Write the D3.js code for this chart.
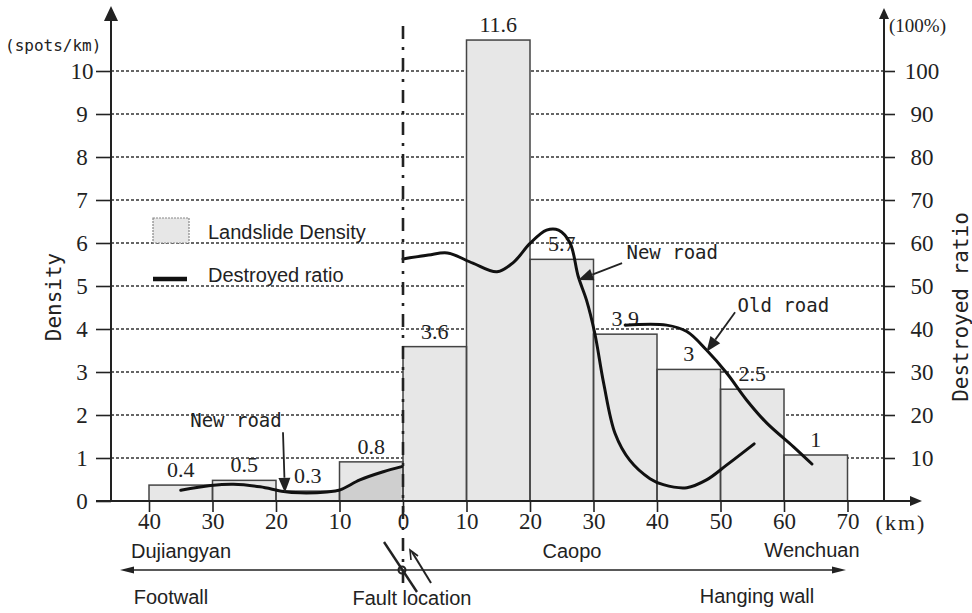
<!DOCTYPE html>
<html>
<head>
<meta charset="utf-8">
<script src="https://cdn.jsdelivr.net/npm/d3@7"></script>
<style>
  html, body { margin: 0; padding: 0; background: #fff; }
  svg { display: block; }
</style>
</head>
<body>
<svg id="chart" width="972" height="613"></svg>
<script>
// ---------------- DATA ----------------
const segStart = [-40, -30, -20, -10, 0, 10, 20, 30, 40, 50, 60];
const segEnd   = [-30, -20, -10, 0, 10, 20, 30, 40, 50, 60, 70];
// bar heights as drawn in the figure (spots/km)
const densityDrawn  = [0.37, 0.48, 0.23, 0.91, 3.59, 10.72, 5.62, 3.88, 3.06, 2.6, 1.07];
const densityLabels = ["0.4", "0.5", "0.3", "0.8", "3.6", "11.6", "5.7", "3.9", "3", "2.5", "1"];

// destroyed ratio (%) – footwall new road
const footKm    = [-35, -30.3, -26.7, -22.5, -18.8, -16.2, -12, -9.9, -6.8, -3.1, -0.2];
const footRatio = [2.5, 3.6, 3.9, 3.3, 2.2, 1.9, 2.1, 2.6, 4.9, 6.8, 8.0];
// hanging wall new road
const newKm    = [0, 4, 7, 11, 14.8, 17.4, 20, 22.6, 24.5, 26.3, 27.6, 28.9, 30.2, 31.6, 33.4, 35.7, 38.9, 41, 44.7, 47.8, 51, 55.3];
const newRatio = [56.3, 57.2, 57.7, 55.3, 53.3, 55.5, 59.9, 63, 63, 60, 52.2, 46.7, 39, 27.4, 15.7, 9.5, 5.2, 3.8, 3.1, 4.9, 8.4, 13.3];
// hanging wall old road
const oldKm    = [35, 41.5, 44.7, 47.8, 51, 54.1, 57.3, 61.5, 64.4];
const oldRatio = [40.9, 40.9, 39.4, 35.1, 29.7, 23.5, 18.1, 12.6, 8.6];

const xTicks = [-40, -30, -20, -10, 0, 10, 20, 30, 40, 50, 60, 70];
const yTicks = [0, 1, 2, 3, 4, 5, 6, 7, 8, 9, 10];
const yRTicks = [10, 20, 30, 40, 50, 60, 70, 80, 90, 100];

// ---------------- SETUP ----------------
const svg = d3.select("#chart");
const serif = "'Liberation Serif', 'DejaVu Serif', serif";
const sans = "'Liberation Sans', Arial, sans-serif";
const mono = "'DejaVu Sans Mono', 'Liberation Mono', monospace";
const ink = "#222";

const xLeft = 111, xRight = 884, yBase = 501;
const x = d3.scaleLinear().domain([-40, 70]).range([149, 847.5]);
const y = d3.scaleLinear().domain([0, 10]).range([yBase, 71]);
const yR = d3.scaleLinear().domain([0, 100]).range([yBase, 71]);

const defs = svg.append("defs");

// ---------------- GRID ----------------
svg.append("g").selectAll("line").data(yTicks.filter(d => d > 0)).join("line")
  .attr("x1", xLeft).attr("x2", xRight)
  .attr("y1", d => y(d)).attr("y2", d => y(d))
  .attr("stroke", "#333").attr("stroke-width", 1.3).attr("stroke-dasharray", "3,2");

// ---------------- BARS ----------------
const bars = segStart.map((s, i) => ({ s, e: segEnd[i], v: densityDrawn[i], label: densityLabels[i] }));

bars.forEach((b, i) => {
  defs.append("clipPath").attr("id", "clip" + i).append("rect")
    .attr("x", x(b.s)).attr("y", y(b.v)).attr("width", x(b.e) - x(b.s)).attr("height", yBase - y(b.v));
});

svg.append("g").selectAll("rect").data(bars).join("rect")
  .attr("x", d => x(d.s)).attr("y", d => y(d.v))
  .attr("width", d => x(d.e) - x(d.s)).attr("height", d => yBase - y(d.v))
  .attr("fill", "#e7e7e7");

// darker shading under the footwall curve inside the -10..0 bar
const footPts = footKm.map((k, i) => [k, footRatio[i]]);
svg.append("path")
  .datum(footPts)
  .attr("clip-path", "url(#clip3)")
  .attr("fill", "#cfcfcf")
  .attr("d", d3.area().x(d => x(d[0])).y0(yBase).y1(d => yR(d[1])).curve(d3.curveCatmullRom.alpha(0.5)));

svg.append("g").selectAll("rect").data(bars).join("rect")
  .attr("x", d => x(d.s)).attr("y", d => y(d.v))
  .attr("width", d => x(d.e) - x(d.s)).attr("height", d => yBase - y(d.v))
  .attr("fill", "none").attr("stroke", "#444").attr("stroke-width", 1.5);

// value labels
svg.append("g").selectAll("text").data(bars).join("text")
  .attr("x", d => (x(d.s) + x(d.e)) / 2)
  .attr("y", d => y(d.v) - 8)
  .attr("text-anchor", "middle")
  .attr("font-family", serif).attr("font-size", 22).attr("fill", ink)
  .text(d => d.label);

// ---------------- AXES ----------------
// left axis
const gL = svg.append("g").attr("transform", `translate(${xLeft},0)`)
  .call(d3.axisLeft(y).tickValues(yTicks).tickSize(15).tickFormat(d3.format("d")));
gL.select(".domain").remove();
gL.selectAll(".tick line").attr("stroke", ink).attr("stroke-width", 1.6);
gL.selectAll(".tick text").attr("x", -29).attr("text-anchor", "middle")
  .attr("font-family", serif).attr("font-size", 23).attr("fill", ink);

// right axis
const gR = svg.append("g").attr("transform", `translate(${xRight},0)`)
  .call(d3.axisRight(yR).tickValues(yRTicks).tickSize(11).tickFormat(d3.format("d")));
gR.select(".domain").remove();
gR.selectAll(".tick line").attr("stroke", ink).attr("stroke-width", 1.6);
gR.selectAll(".tick text").attr("x", 38).attr("text-anchor", "middle")
  .attr("font-family", serif).attr("font-size", 23).attr("fill", ink);

// bottom axis
const gB = svg.append("g").attr("transform", `translate(0,${yBase})`)
  .call(d3.axisBottom(x).tickValues(xTicks).tickSize(11).tickFormat(d => Math.abs(d)));
gB.select(".domain").remove();
gB.selectAll(".tick line").attr("stroke", ink).attr("stroke-width", 1.6);
gB.selectAll(".tick text").attr("y", 21).attr("dy", "0.32em")
  .attr("font-family", serif).attr("font-size", 23).attr("fill", ink);

// axis lines with arrows
svg.append("line").attr("x1", xLeft).attr("x2", xLeft).attr("y1", 18).attr("y2", yBase)
  .attr("stroke", ink).attr("stroke-width", 2);
svg.append("path").attr("d", `M${xLeft},6 L${xLeft - 7},21 L${xLeft + 7},21 Z`).attr("fill", ink);

svg.append("line").attr("x1", xRight).attr("x2", xRight).attr("y1", 16).attr("y2", yBase)
  .attr("stroke", ink).attr("stroke-width", 2);
svg.append("path").attr("d", `M${xRight},8 L${xRight - 5},19 L${xRight + 5},19 Z`).attr("fill", ink);

svg.append("line").attr("x1", 96).attr("x2", 914).attr("y1", yBase).attr("y2", yBase)
  .attr("stroke", ink).attr("stroke-width", 2);
svg.append("path").attr("d", `M922,${yBase} L910,${yBase - 5} L910,${yBase + 5} Z`).attr("fill", ink);

// axis unit labels and titles
svg.append("text").attr("x", 5).attr("y", 51)
  .attr("font-family", mono).attr("font-size", 16).attr("fill", ink).text("(spots/km)");
svg.append("text").attr("x", 889).attr("y", 32)
  .attr("font-family", serif).attr("font-size", 19).attr("fill", ink).text("(100%)");
svg.append("text").attr("x", 901).attr("y", 523).attr("dy", "0.32em").attr("text-anchor", "middle")
  .attr("font-family", serif).attr("font-size", 22).attr("letter-spacing", 2).attr("fill", ink).text("(km)");

svg.append("text").attr("transform", "translate(61,297) rotate(-90)")
  .attr("text-anchor", "middle").attr("font-family", mono).attr("font-size", 21).attr("fill", ink).text("Density");
svg.append("text").attr("transform", "translate(968,307) rotate(-90)")
  .attr("text-anchor", "middle").attr("font-family", mono).attr("font-size", 21).attr("fill", ink).text("Destroyed ratio");

// ---------------- CURVES ----------------
const line = d3.line().x(d => x(d[0])).y(d => yR(d[1])).curve(d3.curveCatmullRom.alpha(0.5));
const curves = [
  footPts,
  newKm.map((k, i) => [k, newRatio[i]]),
  oldKm.map((k, i) => [k, oldRatio[i]])
];
svg.append("g").selectAll("path").data(curves).join("path")
  .attr("d", line).attr("fill", "none").attr("stroke", "#111").attr("stroke-width", 3)
  .attr("stroke-linecap", "round");

// ---------------- FAULT LINE ----------------
svg.append("line").attr("x1", x(0)).attr("x2", x(0)).attr("y1", 26).attr("y2", 590)
  .attr("stroke", ink).attr("stroke-width", 2.6).attr("stroke-dasharray", "13,8,3,8");

// ---------------- ANNOTATIONS ----------------
function arrow(x1, y1, x2, y2, headLen, headW, open) {
  const ang = Math.atan2(y2 - y1, x2 - x1);
  const bx = x2 - headLen * Math.cos(ang), by = y2 - headLen * Math.sin(ang);
  svg.append("line").attr("x1", x1).attr("y1", y1).attr("x2", open ? x2 : bx).attr("y2", open ? y2 : by)
    .attr("stroke", ink).attr("stroke-width", 1.8);
  const px = -Math.sin(ang) * headW, py = Math.cos(ang) * headW;
  if (open) {
    svg.append("path").attr("d", `M${bx + px},${by + py} L${x2},${y2} L${bx - px},${by - py}`)
      .attr("fill", "none").attr("stroke", ink).attr("stroke-width", 1.6);
  } else {
    svg.append("path").attr("d", `M${x2},${y2} L${bx + px},${by + py} L${bx - px},${by - py} Z`).attr("fill", ink);
  }
}
// annotation anchors in data units [km, %]
const annFoot = { text: [-26.3, 18.8], tail: [-18.9, 16], tip: [-18.6, 1.9] };
const annNew  = { text: [42.4, 57.9], tail: [34.5, 55.3], tip: [27.6, 51.4] };
const annOld  = { text: [59.9, 45.4], tail: [52.3, 43.9], tip: [47.8, 34.7] };
[annFoot, annNew, annOld].forEach((a, i) => {
  svg.append("text").attr("x", x(a.text[0])).attr("y", yR(a.text[1])).attr("dy", "0.35em")
    .attr("text-anchor", "middle").attr("font-family", mono).attr("font-size", 19).attr("fill", ink)
    .text(i === 2 ? "Old road" : "New road");
  arrow(x(a.tail[0]), yR(a.tail[1]), x(a.tip[0]), yR(a.tip[1]), 15, 6, false);
});

// ---------------- LEGEND ----------------
svg.append("rect").attr("x", 153).attr("y", 218).attr("width", 36).attr("height", 25)
  .attr("fill", "#e7e7e7").attr("stroke", "#888").attr("stroke-width", 1.2).attr("stroke-dasharray", "2,1");
svg.append("text").attr("x", 208).attr("y", 239).attr("font-family", sans).attr("font-size", 20)
  .attr("fill", ink).text("Landslide Density");
svg.append("line").attr("x1", 153).attr("x2", 187).attr("y1", 279).attr("y2", 279)
  .attr("stroke", "#111").attr("stroke-width", 4.5);
svg.append("text").attr("x", 208).attr("y", 282).attr("font-family", sans).attr("font-size", 20)
  .attr("fill", ink).text("Destroyed ratio");

// ---------------- BOTTOM ANNOTATION ----------------
const bottomText = [
  { t: "Dujiangyan", x: 181, y: 558 },
  { t: "Caopo", x: 572, y: 558 },
  { t: "Wenchuan", x: 812, y: 557 },
  { t: "Footwall", x: 171, y: 604 },
  { t: "Fault location", x: 412, y: 605 },
  { t: "Hanging wall", x: 757, y: 603 }
];
svg.append("g").selectAll("text").data(bottomText).join("text")
  .attr("x", d => d.x).attr("y", d => d.y).attr("text-anchor", "middle")
  .attr("font-family", sans).attr("font-size", 20).attr("fill", ink).text(d => d.t);

// wall arrow line
svg.append("line").attr("x1", 130).attr("x2", 835).attr("y1", 570).attr("y2", 570)
  .attr("stroke", ink).attr("stroke-width", 1.6);
svg.append("path").attr("d", "M120,570 L134,566.5 L134,573.5 Z").attr("fill", ink);
svg.append("path").attr("d", "M846,570 L832,566.5 L832,573.5 Z").attr("fill", ink);

// fault symbol
svg.append("line").attr("x1", 384).attr("y1", 542).attr("x2", 417).attr("y2", 592)
  .attr("stroke", ink).attr("stroke-width", 2.4);
svg.append("line").attr("x1", 431).attr("y1", 583).attr("x2", 412).attr("y2", 552)
  .attr("stroke", ink).attr("stroke-width", 2);
svg.append("path").attr("d", "M411,560 L410,550 L418,556").attr("fill", "none").attr("stroke", ink).attr("stroke-width", 1.6);
svg.append("circle").attr("cx", x(0) - 1).attr("cy", 570).attr("r", 3.5)
  .attr("fill", "none").attr("stroke", ink).attr("stroke-width", 2);
</script>
</body>
</html>
